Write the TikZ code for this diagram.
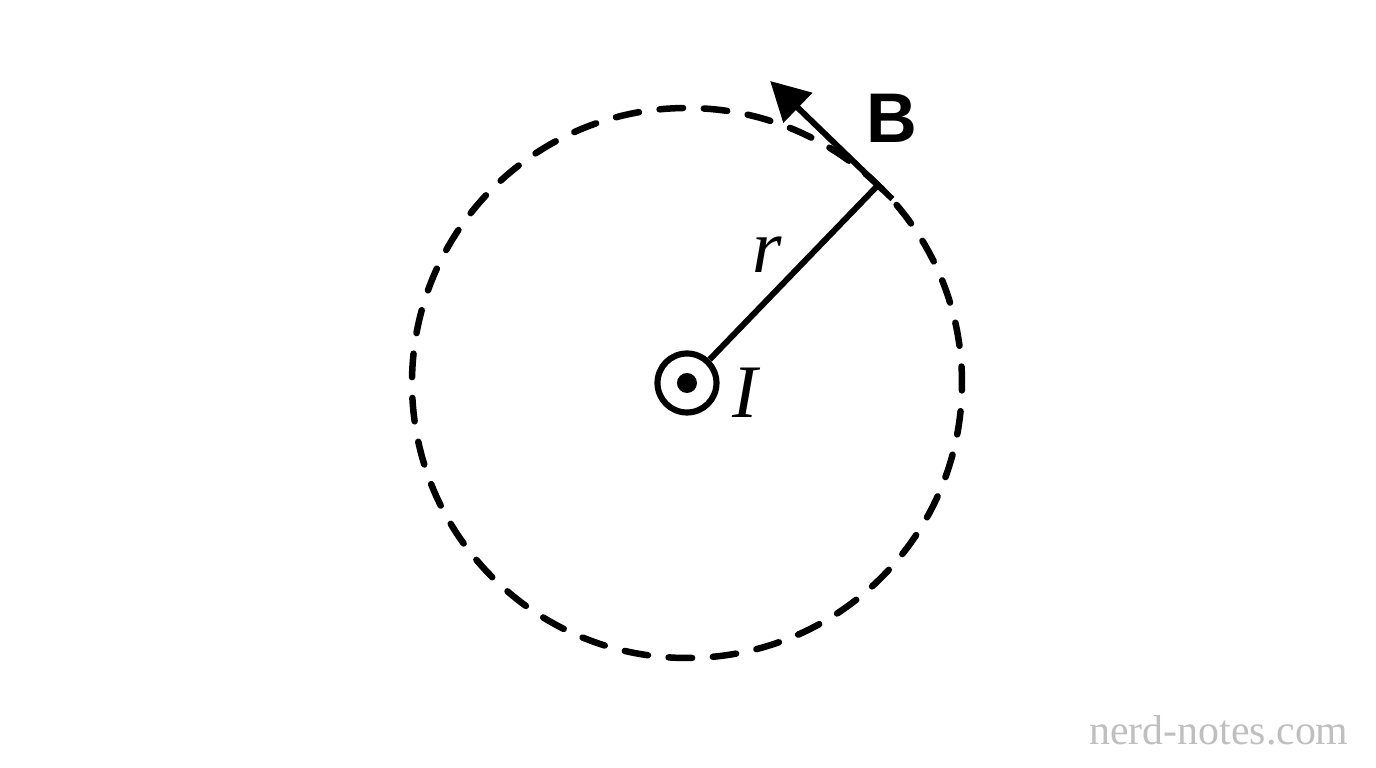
\documentclass[tikz,border=0pt]{standalone}
\usepackage{fontspec}
\setmainfont{Liberation Serif}
\newfontfamily\labelsans{Liberation Sans}
\usetikzlibrary{arrows.meta,calc}

\begin{document}
\begin{tikzpicture}[line width=1.7pt,
  loop/.style={line width=1.85pt, dash pattern=on 0.235cm off 0.208cm, dash phase=0.07cm, line cap=round},
  wire/.style={circle, draw, line width=1.75pt, minimum size=0.59cm, inner sep=0pt},
  lbl/.style={font=\fontsize{21.5}{24}\selectfont\itshape}]
\useasboundingbox (-6.87,-3.85) rectangle (6.89,3.83);
% Amperian loop
\draw[loop] (0,0) circle (2.75);

% Wire with current out of the page
\node[wire] (wire) at (0,0) {};
\fill (wire.center) circle (0.1);

% Radius and field vector
\coordinate (P) at (46:2.75);
\coordinate (Bstart) at ($(P)+(-44:0.2)$);
\coordinate (Bend) at ($(P)+(136:1.5)$);
\draw (wire.46) -- (P);
\draw[-{Triangle[length=11pt,width=11.5pt]}] (Bstart) -- (Bend);

% Labels
\node[lbl] (r) at (0.8,1.28) {r};
\node[lbl] (I) at (0.58,-0.1) {I};
\node[font=\fontsize{20}{24}\selectfont\labelsans\bfseries] (B) at (2.05,2.65) {B};
\node[text=black!25, font=\fontsize{11.9}{14}\selectfont] (site) at (5.32,-3.47) {nerd-notes.com};
\end{tikzpicture}
\end{document}
